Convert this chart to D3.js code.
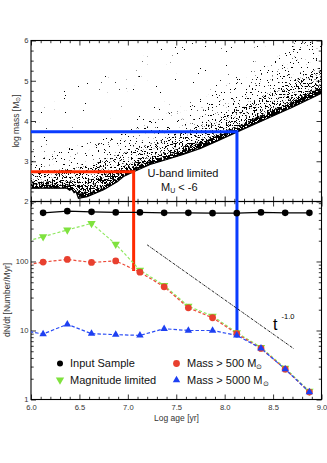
<!DOCTYPE html>
<html>
<head>
<meta charset="utf-8">
<script src="https://cdn.jsdelivr.net/npm/d3@7"></script>
<style>
  body { margin: 0; background: #fff; }
  text { font-family: "Liberation Sans", Arial, sans-serif; }
</style>
</head>
<body>
<div id="chart"></div>
<script>
// ---- bottom panel: formation rate per age bin (log age centres) ----
var ages = [5.875, 6.125, 6.375, 6.625, 6.875, 7.125, 7.375, 7.625, 7.875, 8.125, 8.375, 8.625, 8.875];
var inputSample = [null, 507, 536, 524, 514, 514, 507, 507, 502, 502, 514, 507, 507];
var magLimited = [182, 229, 286, 357, 178, 75, 45, 22.5, 16.2, 9.3, 5.7, 2.85, 1.32];
var massOver500 = [86, 98, 107, 97, 102, 70, 43, 21.3, 15.3, 9.0, 5.5, 2.75, 1.28];
var massOver5000 = [10.2, 8.9, 12.3, 9.0, 8.7, 8.5, 10.6, 10.0, 10.0, 8.5, 5.5, 2.75, 1.28];

// t^-1.0 reference line, end points [log age, dN/dt]
var powerLaw = [[7.2, 174], [8.71, 5.5]];

// completeness cuts: [log age, log mass, dN/dt at bottom of the drop]
var redCut = [7.06, 2.74, 73];
var blueCut = [8.127, 3.73, 7.9];

// ---- top panel: cluster cloud, lower envelope (U-band limit) ----
var envelope = [[6.0, 2.33], [6.37, 2.33], [6.40, 2.28], [6.42, 2.31], [6.445, 2.22], [6.465, 2.25],
  [6.49, 2.08], [6.58, 2.12], [6.75, 2.29], [6.89, 2.49], [6.955, 2.62], [7.06, 2.74], [7.23, 2.92],
  [7.41, 3.05], [7.57, 3.17], [7.75, 3.32], [7.92, 3.50], [8.13, 3.73], [8.4, 4.02], [8.7, 4.34], [9.0, 4.69]];
// upper edges of the density layers of the cloud (sparse -> dense)
var cloudSparse = [[6.0, 4.4], [6.5, 4.9], [7.0, 5.4], [7.4, 5.9], [7.6, 6.05], [9.0, 6.05]];
var cloudMedium = [[6.0, 3.2], [6.5, 3.4], [7.0, 3.8], [7.5, 4.3], [8.0, 4.9], [8.5, 5.5], [8.8, 6.05], [9.0, 6.05]];
var cloudDense = [[6.0, 2.75], [6.5, 2.85], [7.0, 3.25], [7.5, 3.65], [8.0, 4.15], [8.5, 4.75], [9.0, 5.35]];
var cloudCore = [[6.0, 2.5], [6.5, 2.5], [7.0, 2.92], [7.5, 3.3], [8.0, 3.75], [8.5, 4.3], [9.0, 4.92]];
var cloudRim = [[6.0, 2.42], [6.37, 2.42], [6.49, 2.2], [6.75, 2.38], [7.06, 2.84], [7.5, 3.22],
  [8.13, 3.86], [8.7, 4.49], [9.0, 4.86]];

var xMajor = [6.0, 6.5, 7.0, 7.5, 8.0, 8.5, 9.0];
var massMajor = [2, 3, 4, 5, 6];
var rateMajor = [1, 10, 100];

var W = 327, H = 463;
var L = 31, R = 321.5, T = 40.5, MID = 201.5, B = 399.5;

var svg = d3.select("#chart").append("svg")
    .attr("width", W)
    .attr("height", H);

var x = d3.scaleLinear().domain([6, 9]).range([L, R]);
var yTop = d3.scaleLinear().domain([2, 6]).range([MID, T]);
var yBot = d3.scaleLog().domain([1, 740]).range([B, MID]);

var defs = svg.append("defs");
defs.append("clipPath").attr("id", "clipTop")
  .append("rect").attr("x", L).attr("y", T).attr("width", R - L).attr("height", MID - T);
defs.append("clipPath").attr("id", "clipBot")
  .append("rect").attr("x", L).attr("y", MID).attr("width", R - L).attr("height", B - MID);

// stipple texture for the point cloud
function speckle(id, seed, thr) {
    var f = defs.append("filter").attr("id", id)
        .attr("x", 0).attr("y", 0).attr("width", 1).attr("height", 1)
        .attr("color-interpolation-filters", "sRGB");
    f.append("feTurbulence").attr("type", "fractalNoise").attr("baseFrequency", "0.61 0.67")
        .attr("numOctaves", 3).attr("seed", seed).attr("result", "n");
    f.append("feColorMatrix").attr("in", "n").attr("type", "matrix")
        .attr("values", "0 0 0 0 0  0 0 0 0 0  0 0 0 0 0  1 0 0 0 0").attr("result", "a");
    f.append("feComponentTransfer").attr("in", "a").attr("result", "m")
      .append("feFuncA").attr("type", "linear").attr("slope", 30).attr("intercept", -30 * thr);
    f.append("feComposite").attr("in", "SourceGraphic").attr("in2", "m").attr("operator", "in");
}
speckle("spSparse", 3, 0.79);
speckle("spMedium", 11, 0.70);
speckle("spDense", 23, 0.61);
speckle("spCore", 37, 0.54);
speckle("spRim", 51, 0.44);

var ptLine = d3.line().x(function(d) { return x(d[0]); }).y(function(d) { return yTop(d[1]); });
var topCurve = d3.line().curve(d3.curveMonotoneX)
    .x(function(d) { return x(d[0]); }).y(function(d) { return yTop(d[1]); });

function band(upper) {
    var back = ptLine(envelope.slice().reverse());
    return topCurve(upper) + "L" + back.slice(1) + "Z";
}

var cloud = svg.append("g").attr("clip-path", "url(#clipTop)");
[[cloudSparse, "spSparse"], [cloudMedium, "spMedium"], [cloudDense, "spDense"], [cloudCore, "spCore"],
 [cloudRim, "spRim"]]
  .forEach(function(b) {
      cloud.append("path").attr("d", band(b[0])).attr("fill", "#000").attr("filter", "url(#" + b[1] + ")");
  });
cloud.append("path").attr("d", ptLine(envelope))
    .attr("fill", "none").attr("stroke", "#000").attr("stroke-width", 1.2);

// ---- axes (ticks point inward) ----
function ticks(axisFn, scale, vals, size, y0, x0, fmt) {
    var g = svg.append("g")
        .attr("transform", "translate(" + (x0 || 0) + "," + (y0 || 0) + ")")
        .call(axisFn(scale).tickValues(vals).tickSizeInner(-size).tickSizeOuter(0)
            .tickPadding(fmt ? (axisFn === d3.axisBottom ? 5.5 : 2.5) : 0)
            .tickFormat(fmt || ""));
    g.select(".domain").remove();
    g.selectAll("line").attr("stroke", "#000").attr("stroke-width", 0.8);
    g.selectAll("text").attr("font-size", 7.6).attr("fill", "#333")
        .attr("font-family", "Liberation Sans, Arial, sans-serif");
    return g;
}
var xMinor = d3.range(6, 9.001, 0.1).filter(function(v) { return Math.abs(v * 2 - Math.round(v * 2)) > 1e-6; });
var massMinor = d3.range(2, 6.001, 0.25).filter(function(v) { return Math.abs(v - Math.round(v)) > 1e-6; });
var rateMinor = [];
[1, 10, 100].forEach(function(d) { d3.range(2, 10).forEach(function(k) { if (k * d < 740) rateMinor.push(k * d); }); });

// top panel
ticks(d3.axisTop, x, xMajor, 5, T);
ticks(d3.axisTop, x, xMinor, 2.7, T);
ticks(d3.axisBottom, x, xMajor, 5, MID);
ticks(d3.axisBottom, x, xMinor, 2.7, MID);
ticks(d3.axisLeft, yTop, massMajor, 5, 0, L, d3.format("d"));
ticks(d3.axisLeft, yTop, massMinor, 2.7, 0, L);
ticks(d3.axisRight, yTop, massMajor, 5, 0, R);
ticks(d3.axisRight, yTop, massMinor, 2.7, 0, R);
// bottom panel
ticks(d3.axisTop, x, xMajor, 5, MID);
ticks(d3.axisTop, x, xMinor, 2.7, MID);
ticks(d3.axisBottom, x, xMajor, 5, B, 0, d3.format(".1f"));
ticks(d3.axisBottom, x, xMinor, 2.7, B);
ticks(d3.axisLeft, yBot, rateMajor, 5, 0, L, d3.format("d"));
ticks(d3.axisLeft, yBot, rateMinor, 2.7, 0, L);
ticks(d3.axisRight, yBot, rateMajor, 5, 0, R);
ticks(d3.axisRight, yBot, rateMinor, 2.7, 0, R);

svg.append("rect").attr("x", L).attr("y", T).attr("width", R - L).attr("height", MID - T)
    .attr("fill", "none").attr("stroke", "#000").attr("stroke-width", 1.1);
svg.append("rect").attr("x", L).attr("y", MID).attr("width", R - L).attr("height", B - MID)
    .attr("fill", "none").attr("stroke", "#000").attr("stroke-width", 1.1);

// ---- completeness cut guides ----
function cutPath(c) {
    return "M" + x(6) + "," + yTop(c[1]) + "L" + x(c[0]) + "," + yTop(c[1]) + "L" + x(c[0]) + "," + yBot(c[2]);
}
svg.append("path").attr("d", cutPath(redCut)).attr("fill", "none")
    .attr("stroke", "#ff2a00").attr("stroke-width", 3);
svg.append("path").attr("d", cutPath(blueCut)).attr("fill", "none")
    .attr("stroke", "#0a3cff").attr("stroke-width", 3);

// ---- power law ----
svg.append("path")
    .attr("d", d3.line().x(function(d) { return x(d[0]); }).y(function(d) { return yBot(d[1]); })(powerLaw))
    .attr("fill", "none").attr("stroke", "#000").attr("stroke-width", 0.9)
    .attr("stroke-dasharray", "2.5,1,0.8,1");
svg.append("text").attr("x", 273).attr("y", 330).attr("font-size", 16)
    .attr("font-family", "Liberation Serif, Times New Roman, serif").text("t");
svg.append("text").attr("x", 281.5).attr("y", 319).attr("font-size", 7.5).text("-1.0");

// ---- series ----
var series = svg.append("g").attr("clip-path", "url(#clipBot)");
function seriesLine(vals, color, dash, width) {
    var pts = ages.map(function(a, i) { return [a, vals[i]]; });
    series.append("path")
        .attr("d", d3.line().defined(function(d) { return d[1] != null; })
            .x(function(d) { return x(d[0]); }).y(function(d) { return yBot(d[1]); })(pts))
        .attr("fill", "none").attr("stroke", color).attr("stroke-width", width)
        .attr("stroke-dasharray", dash);
    return pts.filter(function(d) { return d[1] != null && d[0] > 6; });
}
var blackPts = seriesLine(inputSample, "#000", null, 1.1);
var greenPts = seriesLine(magLimited, "#8fe860", "3,2", 1.2);
var redPts = seriesLine(massOver500, "#ec4a38", "3,2", 1.2);
var bluePts = seriesLine(massOver5000, "#2a4cf5", "3.5,2", 1.2);

var triDown = d3.symbol().type(d3.symbolTriangle).size(30);
var triUp = d3.symbol().type(d3.symbolTriangle).size(24);

series.selectAll(".blk").data(blackPts).enter().append("circle")
    .attr("cx", function(d) { return x(d[0]); }).attr("cy", function(d) { return yBot(d[1]); })
    .attr("r", 3.3).attr("fill", "#000");
series.selectAll(".grn").data(greenPts).enter().append("path")
    .attr("d", triDown)
    .attr("transform", function(d) { return "translate(" + x(d[0]) + "," + yBot(d[1]) + ") rotate(180)"; })
    .attr("fill", "#7fe23e");
series.selectAll(".red").data(redPts).enter().append("circle")
    .attr("cx", function(d) { return x(d[0]); }).attr("cy", function(d) { return yBot(d[1]); })
    .attr("r", 3.4).attr("fill", "#e8402f");
series.selectAll(".blu").data(bluePts).enter().append("path")
    .attr("d", triUp)
    .attr("transform", function(d) { return "translate(" + x(d[0]) + "," + yBot(d[1]) + ")"; })
    .attr("fill", "#1e40f2");

// ---- legend ----
var leg = svg.append("g").attr("font-size", 11).attr("fill", "#111");
leg.append("circle").attr("cx", 60).attr("cy", 363.5).attr("r", 3).attr("fill", "#000");
leg.append("path").attr("d", triDown).attr("transform", "translate(60,380) rotate(180)").attr("fill", "#7fe23e");
leg.append("circle").attr("cx", 176.5).attr("cy", 363.5).attr("r", 3.4).attr("fill", "#e8402f");
leg.append("path").attr("d", triUp).attr("transform", "translate(176.5,380)").attr("fill", "#1e40f2");
leg.append("text").attr("x", 70).attr("y", 367).text("Input Sample");
leg.append("text").attr("x", 70).attr("y", 383.5).text("Magnitude limited");
var t1 = leg.append("text").attr("x", 187).attr("y", 367).text("Mass > 500 M");
t1.append("tspan").attr("font-size", 6.5).attr("dy", 2).text("\u2299");
var t2 = leg.append("text").attr("x", 187).attr("y", 383.5).text("Mass > 5000 M");
t2.append("tspan").attr("font-size", 6.5).attr("dy", 2).text("\u2299");

// ---- panel annotation ----
svg.append("text").attr("x", 183).attr("y", 177).attr("text-anchor", "middle")
    .attr("font-size", 11).attr("fill", "#111").text("U-band limited");
var mu = svg.append("text").attr("x", 161).attr("y", 190.5).attr("font-size", 11).attr("fill", "#111").text("M");
mu.append("tspan").attr("font-size", 7).attr("dy", 2).text("U");
mu.append("tspan").attr("dy", -2).text(" < -6");

// ---- axis titles ----
var yl = svg.append("text").attr("transform", "translate(18.5,121) rotate(-90)")
    .attr("text-anchor", "middle").attr("font-size", 8.5).attr("fill", "#333").text("log mass [M");
yl.append("tspan").attr("font-size", 5.5).attr("dy", 1.5).text("\u2299");
yl.append("tspan").attr("dy", -1.5).text("]");
svg.append("text").attr("transform", "translate(10,300) rotate(-90)")
    .attr("text-anchor", "middle").attr("font-size", 8.5).attr("fill", "#333").text("dN/dt [Number/Myr]");
svg.append("text").attr("x", 176.5).attr("y", 421).attr("text-anchor", "middle")
    .attr("font-size", 8.5).attr("fill", "#333").text("Log age [yr]");
</script>
</body>
</html>
